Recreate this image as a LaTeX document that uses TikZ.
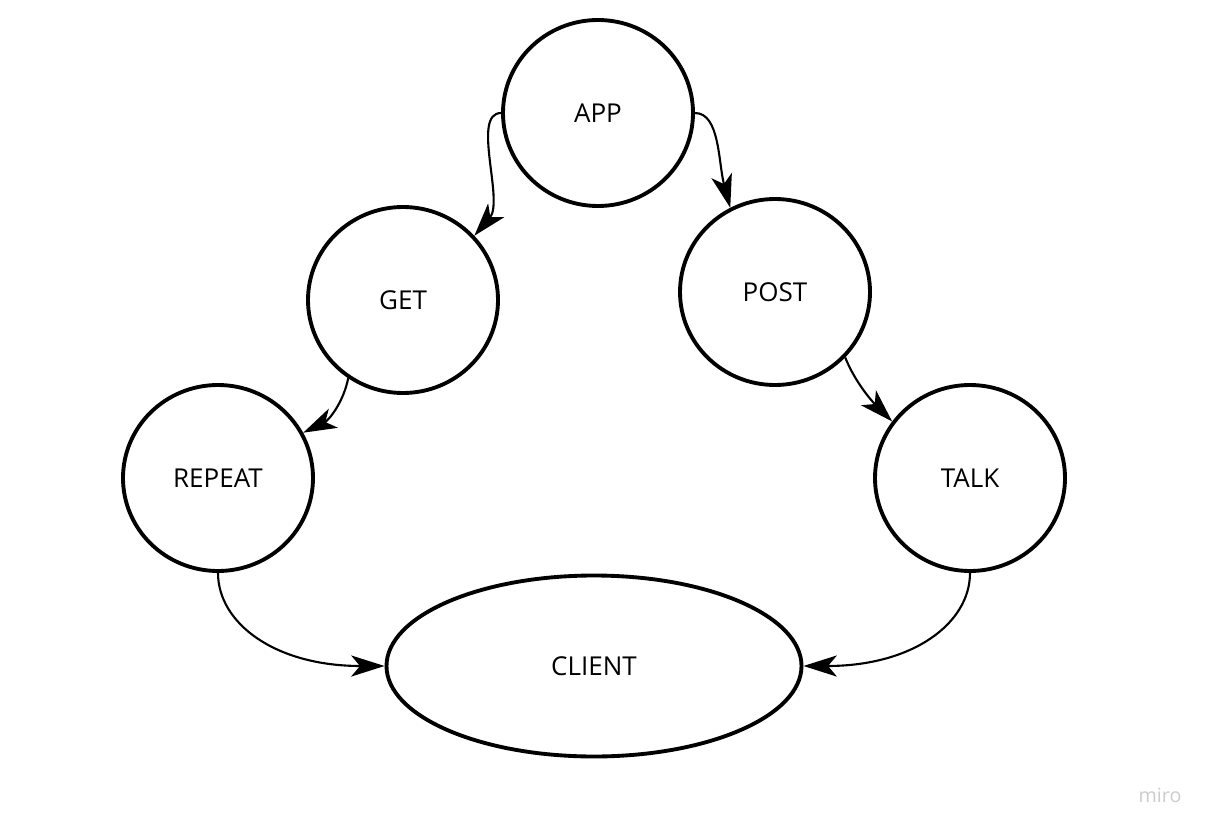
\documentclass[tikz,border=0pt]{standalone}
\usepackage{fontspec}
\setmainfont{Open Sans}
\usetikzlibrary{shapes.geometric, arrows.meta, calc}
\tikzstyle{state} = [ellipse, minimum width=1.9cm, minimum height=1.86cm, text centered, draw=black, line width=1.1pt, font=\fontsize{7.4}{9}\selectfont]
\tikzstyle{client} = [ellipse, minimum width=4.15cm, minimum height=1.81cm, text centered, draw=black, line width=1.1pt, font=\fontsize{7.4}{9}\selectfont]
\tikzstyle{arrow} = [semithick,-{Stealth[length=9.5pt,width=6pt,inset=2.5pt]}]

\begin{document}
\begin{tikzpicture}[node distance=2cm]
    \useasboundingbox (0,0) rectangle (12.07,8.28);

    \node (app) [state] at (5.98,7.15) {APP};
    \node (get) [state, below of=app, xshift=-1.95cm, yshift=0.13cm] {GET};
    \node (post) [state, below of=app, xshift=1.77cm, yshift=0.21cm] {POST};
    \node (repeat) [state, below of=get, xshift=-1.85cm, yshift=0.22cm] {REPEAT};
    \node (talk) [state, below of=post, xshift=1.95cm, yshift=0.14cm] {TALK};
    \node (client) [client, below of=app, xshift=-0.04cm, yshift=-3.53cm] {CLIENT};
    \node (logo) [text=black!20, font=\fontsize{5.6}{7}\selectfont] at (11.60,0.33) {miro};

    \draw [arrow] (app.west) .. controls +(-0.3,0) and +(0.3,0.35) .. (get.42);
    \draw [arrow] (app.east) .. controls +(0.25,0) and +(-0.12,0.45) .. (post.118);
    \draw [arrow] (get.235) .. controls +(-0.05,-0.25) and +(0.25,0.12) .. (repeat.28);
    \draw [arrow] (post.317) .. controls +(0.1,-0.25) and +(-0.2,0.2) .. (talk.144);
    \draw [arrow] (repeat.south) .. controls +(0,-0.5) and +(-1.1,0) .. (client.west);
    \draw [arrow] (talk.south) .. controls +(0,-0.5) and +(1.1,0) .. (client.east);
\end{tikzpicture}
\end{document}
